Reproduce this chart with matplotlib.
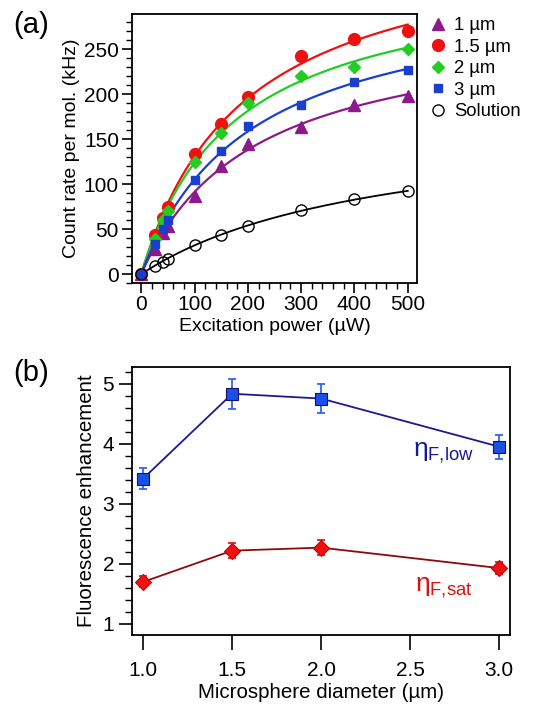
import numpy as np
import matplotlib
matplotlib.use("Agg")
import matplotlib.pyplot as plt
from matplotlib.ticker import MultipleLocator

plt.rcParams['font.family'] = ['Liberation Sans', 'DejaVu Sans']
plt.rcParams['mathtext.fontset'] = 'custom'
plt.rcParams['mathtext.rm'] = 'Liberation Sans'
plt.rcParams['mathtext.it'] = 'Liberation Sans'

# panel (a): count rate vs excitation power
power = np.array([0, 25, 40, 50, 100, 150, 200, 300, 400, 500])
rate_1um = np.array([0, 28, 46, 53, 87, 120, 145, 163, 188, 198])
rate_15um = np.array([0, 43, 62, 75, 133, 167, 197, 242, 261, 270])
rate_2um = np.array([0, 39, 60, 70, 125, 157, 190, 220, 230, 250])
rate_3um = np.array([0, 33, 50, 60, 105, 137, 165, 188, 213, 227])
rate_sol = np.array([0, 9, 14, 17, 32, 44, 54, 71, 83, 92])

# panel (b): enhancement vs diameter
diam = np.array([1.0, 1.5, 2.0, 3.0])
eta_low = np.array([3.42, 4.83, 4.75, 3.95])
eta_low_err = np.array([0.17, 0.25, 0.24, 0.20])
eta_sat = np.array([1.70, 2.22, 2.27, 1.93])
eta_sat_err = np.array([0.09, 0.13, 0.12, 0.10])


def sat_fit(x, y):
    # least squares fit of y = A*x/(x+Is), grid over Is
    best = None
    for Is in np.linspace(10, 3000, 3000):
        g = x / (x + Is)
        A = np.sum(g * y) / np.sum(g * g)
        r = np.sum((A * g - y) ** 2)
        if best is None or r < best[0]:
            best = (r, A, Is)
    return best[1], best[2]


fig = plt.figure(figsize=(5.33, 7.06), dpi=100)
ax1 = fig.add_axes([0.248, 0.599, 0.535, 0.381])
ax2 = fig.add_axes([0.248, 0.1006, 0.709, 0.380])

xx = np.linspace(0, 500, 200)
series = [
    (rate_1um, '^', '#8b1a8b', '1 µm', 8),
    (rate_15um, 'o', '#ee1111', '1.5 µm', 8.5),
    (rate_2um, 'D', '#22cc22', '2 µm', 6),
    (rate_3um, 's', '#1a3fd0', '3 µm', 5.5),
]
for y, m, c, lab, ms in series:
    A, Is = sat_fit(power, y)
    ax1.plot(xx, A * xx / (xx + Is), color=c, lw=1.6, zorder=2)
    ax1.plot(power, y, m, color=c, ms=ms, label=lab, zorder=3, linestyle='none')
A, Is = sat_fit(power, rate_sol)
ax1.plot(xx, A * xx / (xx + Is), color='black', lw=1.3, zorder=2)
ax1.plot(power, rate_sol, 'o', mfc='none', mec='black', mew=1.0, ms=8,
         label='Solution', linestyle='none', zorder=3)

ax1.set_xlim(-17, 518)
ax1.set_ylim(-10, 289)
ax1.xaxis.set_major_locator(MultipleLocator(100))
ax1.xaxis.set_minor_locator(MultipleLocator(20))
ax1.yaxis.set_major_locator(MultipleLocator(50))
ax1.yaxis.set_minor_locator(MultipleLocator(10))
ax1.set_xlabel('Excitation power (µW)', fontsize=14, labelpad=3)
ax1.set_ylabel('Count rate per mol. (kHz)', fontsize=14, labelpad=3)
ax1.legend(loc='upper left', bbox_to_anchor=(1.015, 1.015), frameon=False,
           fontsize=13.3, handletextpad=0.35, labelspacing=0.24,
           handlelength=1.0, borderaxespad=0.0)
ax1.text(-0.418, 0.959, '(a)', transform=ax1.transAxes, fontsize=21,
         ha='left', va='center')

ax2.errorbar(diam, eta_low, yerr=eta_low_err, fmt='none', ecolor='#3366ee',
             elinewidth=1.3, capsize=3, capthick=1.3, zorder=2)
ax2.plot(diam, eta_low, '-', color='#1a1a99', lw=1.3, zorder=3)
ax2.plot(diam, eta_low, 's', color='#1a4fe8', mec='#10106a', mew=0.8, ms=8,
         zorder=4)
ax2.errorbar(diam, eta_sat, yerr=eta_sat_err, fmt='none', ecolor='#e02020',
             elinewidth=1.3, capsize=3, capthick=1.3, zorder=2)
ax2.plot(diam, eta_sat, '-', color='#8b0a0a', lw=1.3, zorder=3)
ax2.plot(diam, eta_sat, 'D', color='#ee1111', mec='#cc0000', mew=0.8, ms=8.5,
         zorder=4)

ax2.text(2.69, 3.85, r'$\eta_{\mathrm{F{,}low}}$', color='#1a1a99',
         fontsize=19, ha='center', va='center')
ax2.text(2.69, 1.60, r'$\eta_{\mathrm{F{,}sat}}$', color='#dd1111',
         fontsize=19, ha='center', va='center')

ax2.set_xlim(0.938, 3.062)
ax2.set_ylim(0.817, 5.28)
ax2.yaxis.set_major_locator(MultipleLocator(1))
ax2.yaxis.set_minor_locator(MultipleLocator(0.2))
ax2.set_xticks([1.0, 1.5, 2.0, 2.5, 3.0], ['1.0', '1.5', '2.0', '2.5', '3.0'])
ax2.set_xlabel('Microsphere diameter (µm)', fontsize=14.8, labelpad=2)
ax2.set_ylabel('Fluorescence enhancement', fontsize=14.8, labelpad=5)
ax2.text(-0.315, 0.978, '(b)', transform=ax2.transAxes, fontsize=21,
         ha='left', va='center')

for ax in (ax1, ax2):
    for s in ax.spines.values():
        s.set_linewidth(1.3)
    ax.tick_params(which='major', direction='out', length=7, width=1.2,
                   labelsize=15, pad=2.5)
    ax.tick_params(which='minor', direction='out', length=4, width=1.0)
ax2.tick_params(axis='x', which='major', length=11, pad=8)
ax2.tick_params(axis='y', which='major', length=9.5, pad=3.5)
ax2.tick_params(axis='y', which='minor', length=5)
ax1.tick_params(axis='x', which='major', pad=1.5)

fig.savefig('out.png', dpi=100)
